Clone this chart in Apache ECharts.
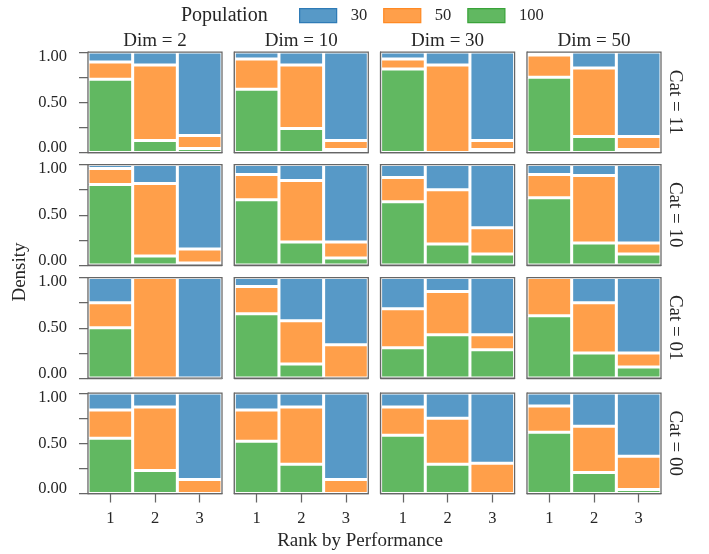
<!DOCTYPE html>
<html>
<head>
<meta charset="utf-8">
<script src="https://cdn.jsdelivr.net/npm/echarts@6/dist/echarts.min.js"></script>
<style>html,body{margin:0;padding:0;background:#fff}#c{width:709px;height:554px}</style>
</head>
<body>
<div id="c"></div>
<script>
// ---- data ----
const dims = ['Dim = 2', 'Dim = 10', 'Dim = 30', 'Dim = 50'];
const cats = ['Cat = 11', 'Cat = 10', 'Cat = 01', 'Cat = 00'];
const ranks = ['1', '2', '3'];
const popNames = ['30', '50', '100'];
const yTicks = [0, 0.5, 1];
// share of each population per bar: [cat row][dim col][rank]
const share100 = [
  [[0.73, 0.12, 0.04], [0.63, 0.24, 0.03], [0.83, 0.00, 0.03], [0.75, 0.16, 0.03]],
  [[0.80, 0.09, 0.02], [0.65, 0.23, 0.07], [0.63, 0.21, 0.11], [0.67, 0.22, 0.11]],
  [[0.50, 0.00, 0.00], [0.64, 0.14, 0.00], [0.30, 0.43, 0.28], [0.62, 0.25, 0.11]],
  [[0.55, 0.23, 0.00], [0.52, 0.29, 0.00], [0.58, 0.29, 0.00], [0.61, 0.21, 0.04]]
];
const share50 = [
  [[0.17, 0.75, 0.13], [0.30, 0.63, 0.09], [0.10, 0.87, 0.09], [0.22, 0.68, 0.13]],
  [[0.16, 0.72, 0.14], [0.25, 0.61, 0.16], [0.24, 0.54, 0.26], [0.23, 0.67, 0.11]],
  [[0.25, 1.00, 0.00], [0.27, 0.43, 0.33], [0.39, 0.43, 0.15], [0.38, 0.50, 0.14]],
  [[0.28, 0.63, 0.14], [0.31, 0.57, 0.14], [0.28, 0.46, 0.30], [0.26, 0.46, 0.33]]
];
const share30 = [
  [[0.10, 0.13, 0.83], [0.07, 0.13, 0.88], [0.07, 0.13, 0.88], [0.03, 0.16, 0.84]],
  [[0.04, 0.19, 0.84], [0.10, 0.16, 0.77], [0.13, 0.25, 0.63], [0.10, 0.11, 0.78]],
  [[0.25, 0.00, 1.00], [0.09, 0.43, 0.67], [0.31, 0.14, 0.57], [0.00, 0.25, 0.75]],
  [[0.17, 0.14, 0.86], [0.17, 0.14, 0.86], [0.14, 0.25, 0.70], [0.13, 0.33, 0.63]]
];

// ---- style / layout ----
const FONT = 'Liberation Serif';
const TXT = '#262626';
const AX = '#666666';
const fill = { '30': '#5799c7', '50': '#ff9f4a', '100': '#61b861' };
const edge = { '30': '#2f7bb6', '50': '#ff8a24', '100': '#3aa33a' };
const colLeft = [88, 234.3, 380.6, 527];
const rowTop = [52, 164.5, 277.5, 393];
const W = 134, H = 100.5;

const grids = [], xAxes = [], yAxes = [], series = [], graphics = [];
const popData = { '100': share100, '50': share50, '30': share30 };

cats.forEach((cat, r) => {
  dims.forEach((dim, c) => {
    const i = r * 4 + c;
    const isBottom = r === 3, isLeft = c === 0;
    grids.push({ left: colLeft[c], top: rowTop[r], width: W, height: H, containLabel: false });
    xAxes.push({
      type: 'category', gridIndex: i, data: ranks,
      axisLine: { show: true, lineStyle: { color: AX, width: 1.25 } },
      axisTick: { show: isBottom, alignWithLabel: true, length: 9, lineStyle: { color: AX, width: 1.25 } },
      axisLabel: { show: isBottom, fontFamily: FONT, fontSize: 16.5, color: TXT, margin: 17 },
      splitLine: { show: false }
    });
    yAxes.push({
      type: 'value', gridIndex: i, min: yTicks[0], max: yTicks[yTicks.length - 1], interval: yTicks[1] - yTicks[0],
      axisLine: { show: true, lineStyle: { color: AX, width: 1.25 } },
      axisTick: { show: isLeft, length: 9, lineStyle: { color: AX, width: 1.25 } },
      minorTick: { show: isLeft, splitNumber: 2, length: 9, lineStyle: { color: AX, width: 1.25 } },
      axisLabel: {
        show: isLeft, fontFamily: FONT, fontSize: 16.5, color: TXT, margin: 21, lineHeight: 9,
        formatter: v => v.toFixed(2),
        verticalAlignMinLabel: 'bottom', verticalAlignMaxLabel: 'top'
      },
      splitLine: { show: false }, minorSplitLine: { show: false }
    });
    ['100', '50', '30'].forEach(p => {
      series.push({
        type: 'bar', name: p, xAxisIndex: i, yAxisIndex: i, stack: 'panel' + i,
        barWidth: '100%', barCategoryGap: 0,
        data: popData[p][r][c],
        itemStyle: { color: fill[p], borderColor: '#ffffff', borderWidth: 1.5 },
        emphasis: { disabled: true }, silent: true
      });
    });
    graphics.push({
      type: 'rect', z: 100, silent: true,
      shape: { x: colLeft[c], y: rowTop[r], width: W, height: H },
      style: { fill: 'none', stroke: AX, lineWidth: 1.25 }
    });
    if (r === 0) {
      graphics.push({
        type: 'text', z: 100, x: colLeft[c] + W / 2, y: 41,
        style: { text: dim, fontFamily: FONT, fontSize: 19, fill: TXT, align: 'center', verticalAlign: 'middle' }
      });
    }
    if (c === 3) {
      graphics.push({
        type: 'text', z: 100, x: 675, y: rowTop[r] + H / 2, rotation: -Math.PI / 2,
        style: { text: cat, fontFamily: FONT, fontSize: 19, fill: TXT, align: 'center', verticalAlign: 'middle' }
      });
    }
  });
});

graphics.push({
  type: 'text', x: 20, y: 272, rotation: Math.PI / 2,
  style: { text: 'Density', fontFamily: FONT, fontSize: 19, fill: TXT, align: 'center', verticalAlign: 'middle' }
});
graphics.push({
  type: 'text', x: 360, y: 541,
  style: { text: 'Rank by Performance', fontFamily: FONT, fontSize: 19, fill: TXT, align: 'center', verticalAlign: 'middle' }
});
graphics.push({
  type: 'text', x: 181, y: 16,
  style: { text: 'Population', fontFamily: FONT, fontSize: 20, fill: TXT, align: 'left', verticalAlign: 'middle' }
});

const chart = echarts.init(document.getElementById('c'), null, { renderer: 'canvas' });
chart.setOption({
  animation: false,
  backgroundColor: '#ffffff',
  grid: grids, xAxis: xAxes, yAxis: yAxes, series: series,
  legend: {
    left: 299, top: 7, padding: 0, itemWidth: 37, itemHeight: 14, itemGap: 16, icon: 'rect',
    selectedMode: false,
    textStyle: { fontFamily: FONT, fontSize: 16.5, color: TXT, padding: [0, 0, 0, 9] },
    data: popNames.map(p => ({ name: p, itemStyle: { color: fill[p], borderColor: edge[p], borderWidth: 1.25 } }))
  },
  graphic: graphics
});
</script>
</body>
</html>
